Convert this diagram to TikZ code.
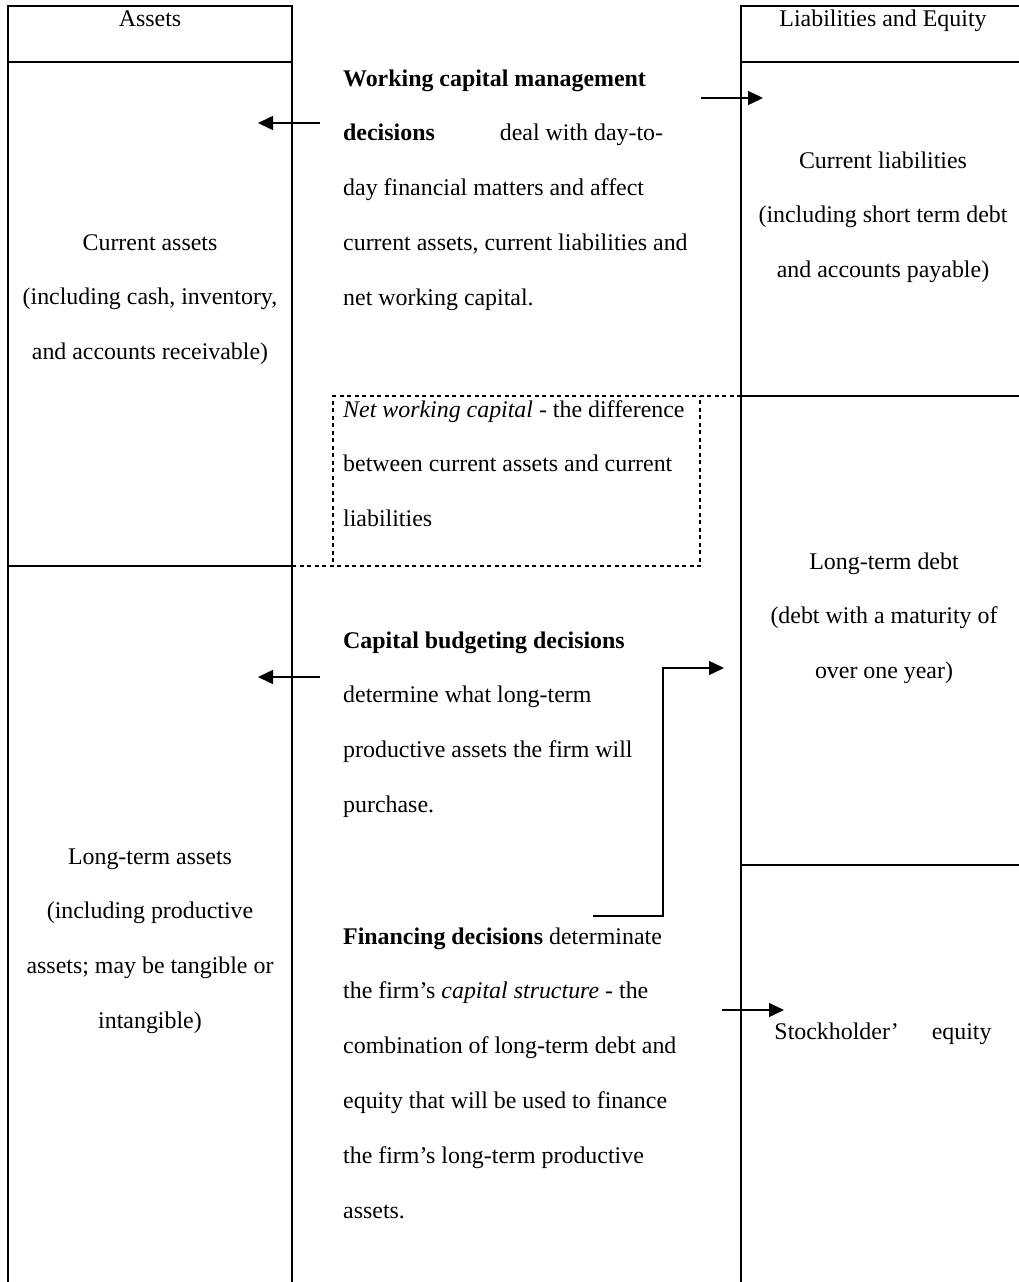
\documentclass[tikz,border=0pt]{standalone}
\usepackage{fontspec}
\setmainfont{Liberation Serif}
\usetikzlibrary{arrows.meta}
\begin{document}
\begin{tikzpicture}[x=1pt,y=-1pt,
  txt/.style={font=\fontsize{23.9}{28}\selectfont, inner sep=0pt},
  lft/.style={txt, anchor=base west},
  ctr/.style={txt, anchor=base},
  solidline/.style={line width=1.9pt},
  dashline/.style={line width=1.5pt, dash pattern=on 4pt off 3.5pt},
  arr/.style={line width=1.5pt, -{Triangle[length=15pt,width=14pt]}},
]
\useasboundingbox (0,0) rectangle (1018,1282);

% column frames
\draw[solidline] (8,1290) -- (8,6) -- (292,6) -- (292,1290);
\draw[solidline] (8,62) -- (292,62);
\draw[solidline] (8,566) -- (292,566);
\draw[solidline] (1030,6) -- (741,6) -- (741,1290);
\draw[solidline] (741,62) -- (1030,62);
\draw[solidline] (741,396) -- (1030,396);
\draw[solidline] (741,865) -- (1030,865);

% dashed net working capital box
\draw[dashline] (741,396) -- (333,396) -- (333,566);
\draw[dashline] (292,566) -- (700,566) -- (700,396);

% headers
\node[ctr] (assets) at (150,27) {Assets};
\node[ctr] (liab) at (883,27) {Liabilities and Equity};

% left column
\foreach \t [count=\i] in {{Current assets},{(including cash, inventory,},{and accounts receivable)}}
  \node[ctr] (ca\i) at (150,{250+54.8*(\i-1)}) {\t};
\foreach \t [count=\i] in {{Long-term assets},{(including productive},{assets; may be tangible or},{intangible)}}
  \node[ctr] (la\i) at (150,{864+54.8*(\i-1)}) {\t};

% right column
\foreach \t [count=\i] in {{Current liabilities},{(including short term debt},{and accounts payable)}}
  \node[ctr] (cl\i) at (883,{168+54.8*(\i-1)}) {\t};
\foreach \t [count=\i] in {{Long-term debt},{(debt with a maturity of},{over one year)}}
  \node[ctr] (ld\i) at (884,{569+54.8*(\i-1)}) {\t};
\node[ctr] (se) at (883,1039) {Stockholder’\hspace{33pt}equity};

% middle texts
\foreach \t [count=\i] in {{\textbf{Working capital management}},{\textbf{decisions}\hspace{65pt}deal with day-to-},{day financial matters and affect},{current assets, current liabilities and},{net working capital.}}
  \node[lft] (wc\i) at (343,{86+54.8*(\i-1)}) {\t};
\foreach \t [count=\i] in {{\textit{Net working capital} - the difference},{between current assets and current},{liabilities}}
  \node[lft] (nw\i) at (343,{417+54.8*(\i-1)}) {\t};
\foreach \t [count=\i] in {{\textbf{Capital budgeting decisions}},{determine what long-term},{productive assets the firm will},{purchase.}}
  \node[lft] (cb\i) at (343,{648+54.8*(\i-1)}) {\t};
\foreach \t [count=\i] in {{\textbf{Financing decisions} determinate},{the firm’s \textit{capital structure} - the},{combination of long-term debt and},{equity that will be used to finance},{the firm’s long-term productive},{assets.}}
  \node[lft] (fd\i) at (343,{944+54.8*(\i-1)}) {\t};

% arrows
\coordinate (a1s) at (320,123); \coordinate (a1e) at (258,123);
\coordinate (a2s) at (701,98);  \coordinate (a2e) at (763,98);
\coordinate (a3s) at (320,677); \coordinate (a3e) at (258,677);
\coordinate (a4s) at (593,916); \coordinate (a4m) at (663,916);
\coordinate (a4n) at (663,668); \coordinate (a4e) at (724,668);
\coordinate (a5s) at (722,1010); \coordinate (a5e) at (784,1010);
\draw[arr] (a1s) -- (a1e);
\draw[arr] (a2s) -- (a2e);
\draw[arr] (a3s) -- (a3e);
\draw[arr] (a4s) -- (a4m) -- (a4n) -- (a4e);
\draw[arr] (a5s) -- (a5e);
\end{tikzpicture}
\end{document}
